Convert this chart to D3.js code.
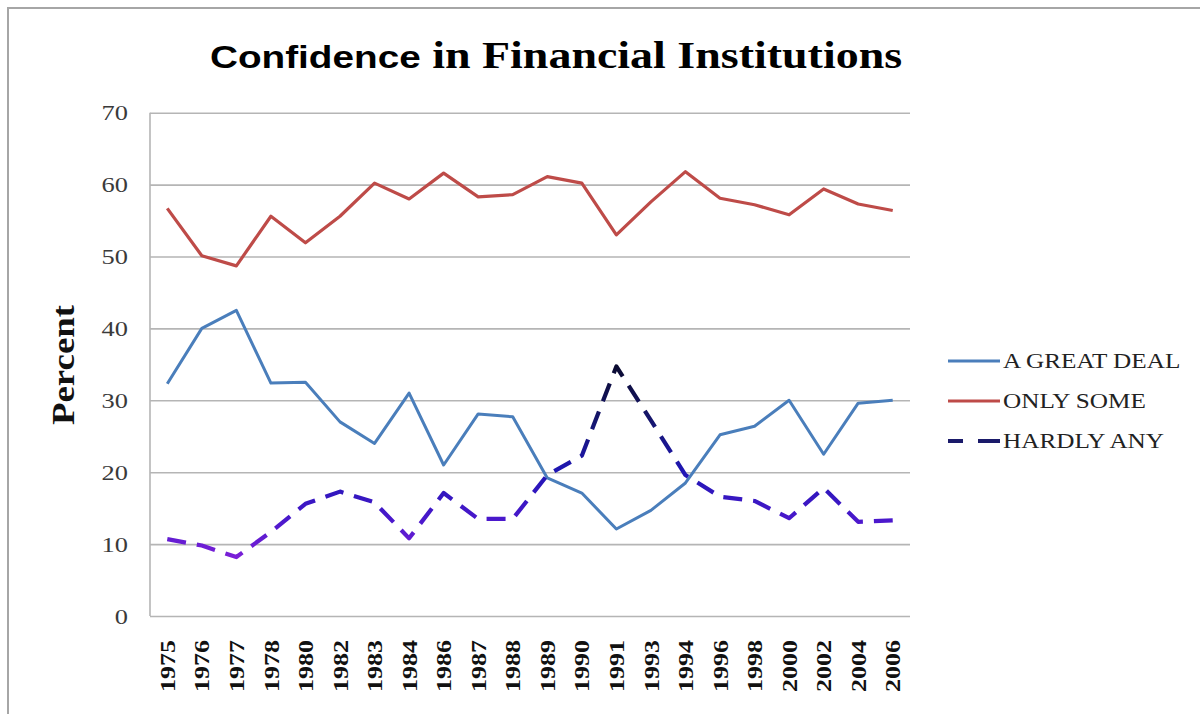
<!DOCTYPE html>
<html>
<head>
<meta charset="utf-8">
<script src="https://cdn.jsdelivr.net/npm/d3@7"></script>
<style>
  body { margin: 0; background: #fff; }
  svg { display: block; }
</style>
</head>
<body>
<svg width="1200" height="714"></svg>
<script>
// values
var years = ["1975", "1976", "1977", "1978", "1980", "1982", "1983", "1984", "1986", "1987", "1988",
    "1989", "1990", "1991", "1993", "1994", "1996", "1998", "2000", "2002", "2004", "2006"];
var greatDeal = [32.3, 40.0, 42.5, 32.4, 32.5, 27.0, 24.0, 31.0, 21.0, 28.1, 27.7,
    19.2, 17.1, 12.1, 14.7, 18.5, 25.2, 26.4, 30.0, 22.5, 29.6, 30.0];
var onlySome = [56.7, 50.1, 48.7, 55.6, 51.9, 55.6, 60.2, 58.0, 61.6, 58.3, 58.6,
    61.1, 60.2, 53.0, 57.6, 61.8, 58.1, 57.2, 55.8, 59.4, 57.3, 56.4];
var hardlyAny = [10.7, 9.8, 8.2, 11.7, 15.6, 17.3, 15.8, 10.8, 17.1, 13.5, 13.5,
    19.6, 22.3, 34.7, 27.2, 19.6, 16.6, 16.0, 13.6, 17.8, 13.1, 13.3];
var yTicks = [0, 10, 20, 30, 40, 50, 60, 70];
var seriesNames = ["A GREAT DEAL", "ONLY SOME", "HARDLY ANY"];

var svg = d3.select("svg"),
    sx = 1.2; // picture is stretched sideways

// frame
svg.append("rect")
    .attr("x", 8).attr("y", 8)
    .attr("width", 1200).attr("height", 720)
    .attr("fill", "none")
    .attr("stroke", "#a6a6a6")
    .attr("stroke-width", 2);

var x = d3.scalePoint()
    .domain(years)
    .range([150, 910])
    .padding(0.5);

var y = d3.scaleLinear()
    .domain([0, 70])
    .range([616, 112.7]);

// gridlines + y labels
var gY = svg.append("g")
    .attr("transform", "translate(150,0)")
    .call(d3.axisLeft(y).tickValues(yTicks).tickSize(-760).tickPadding(0));

gY.select(".domain").remove();
gY.selectAll(".tick line")
    .attr("stroke", "#b5b5b5")
    .attr("stroke-width", 1.6);
gY.selectAll(".tick text")
    .attr("x", 0)
    .attr("dy", "0.33em")
    .attr("transform", "translate(-22,0) scale(" + sx + ",1)")
    .attr("fill", "#3a3a3a")
    .style("font-family", "'Liberation Serif', 'Times New Roman', serif")
    .style("font-size", "22px");

// left axis line
svg.append("line")
    .attr("x1", 150).attr("x2", 150)
    .attr("y1", y(70)).attr("y2", y(0))
    .attr("stroke", "#b5b5b5")
    .attr("stroke-width", 1.6);

// x axis labels
var gX = svg.append("g")
    .attr("transform", "translate(0,616)")
    .call(d3.axisBottom(x).tickSize(0));

gX.select(".domain").remove();
gX.selectAll(".tick text")
    .attr("x", 0).attr("y", 0)
    .attr("dy", "0.34em")
    .attr("transform", "translate(0,24) rotate(-90)")
    .attr("text-anchor", "end")
    .attr("fill", "#111")
    .attr("textLength", 52)
    .attr("lengthAdjust", "spacingAndGlyphs")
    .style("font-family", "'Liberation Serif', 'Times New Roman', serif")
    .style("font-weight", "bold")
    .style("font-size", "21px");

// lines
var line = d3.line()
    .x(function(d, i) { return x(years[i]); })
    .y(function(d) { return y(d); });

var defs = svg.append("defs");
var grad = defs.append("linearGradient")
    .attr("id", "hardGrad")
    .attr("gradientUnits", "userSpaceOnUse")
    .attr("x1", 0).attr("x2", 0)
    .attr("y1", y(35)).attr("y2", y(8));
grad.append("stop").attr("offset", "0%").attr("stop-color", "#0a0a2e");
grad.append("stop").attr("offset", "30%").attr("stop-color", "#161670");
grad.append("stop").attr("offset", "55%").attr("stop-color", "#1f16b4");
grad.append("stop").attr("offset", "80%").attr("stop-color", "#4a18cc");
grad.append("stop").attr("offset", "100%").attr("stop-color", "#7d20d8");

svg.append("path")
    .attr("d", line(onlySome))
    .attr("fill", "none")
    .attr("stroke", "#be4b48")
    .attr("stroke-width", 3.2)
    .attr("stroke-linejoin", "round");

svg.append("path")
    .attr("d", line(greatDeal))
    .attr("fill", "none")
    .attr("stroke", "#4a7ebb")
    .attr("stroke-width", 3)
    .attr("stroke-linejoin", "round");

svg.append("path")
    .attr("d", line(hardlyAny))
    .attr("fill", "none")
    .attr("stroke", "url(#hardGrad)")
    .attr("stroke-width", 4.2)
    .attr("stroke-dasharray", "19,11")
    .attr("stroke-linejoin", "round");

// legend
var legendColors = ["#4a7ebb", "#be4b48", "#1a1a6a"];
var legendDash = [null, null, "15,15,30"];
var legend = svg.append("g");
var item = legend.selectAll("g")
    .data(seriesNames)
    .join("g")
    .attr("transform", function(d, i) { return "translate(948," + (361 + i * 40) + ")"; });

item.append("line")
    .attr("x1", 0).attr("x2", 52)
    .attr("stroke", function(d, i) { return legendColors[i]; })
    .attr("stroke-width", function(d, i) { return i == 2 ? 4.2 : 3.2; })
    .attr("stroke-dasharray", function(d, i) { return legendDash[i]; });

item.append("text")
    .attr("transform", "translate(55,0) scale(" + sx + ",1)")
    .attr("dy", "0.34em")
    .attr("fill", "#222")
    .style("font-family", "'Liberation Serif', 'Times New Roman', serif")
    .style("font-size", "21px")
    .text(function(d) { return d; });

// axis title
svg.append("text")
    .attr("transform", "translate(63,365) rotate(-90)")
    .attr("text-anchor", "middle")
    .attr("dy", "0.34em")
    .attr("textLength", 120)
    .attr("lengthAdjust", "spacingAndGlyphs")
    .attr("fill", "#111")
    .style("font-family", "'Liberation Serif', 'Times New Roman', serif")
    .style("font-weight", "bold")
    .style("font-size", "31px")
    .text("Percent");

// title
var title = svg.append("text")
    .attr("transform", "translate(210,68) scale(1.21,1)")
    .attr("fill", "#000")
    .style("font-weight", "bold");
title.append("tspan")
    .style("font-family", "'Liberation Sans', Arial, sans-serif")
    .style("font-size", "32px")
    .text("Confidence");
title.append("tspan")
    .style("font-family", "'Liberation Serif', 'Times New Roman', serif")
    .style("font-size", "38px")
    .text(" in Financial Institutions");
</script>
</body>
</html>
